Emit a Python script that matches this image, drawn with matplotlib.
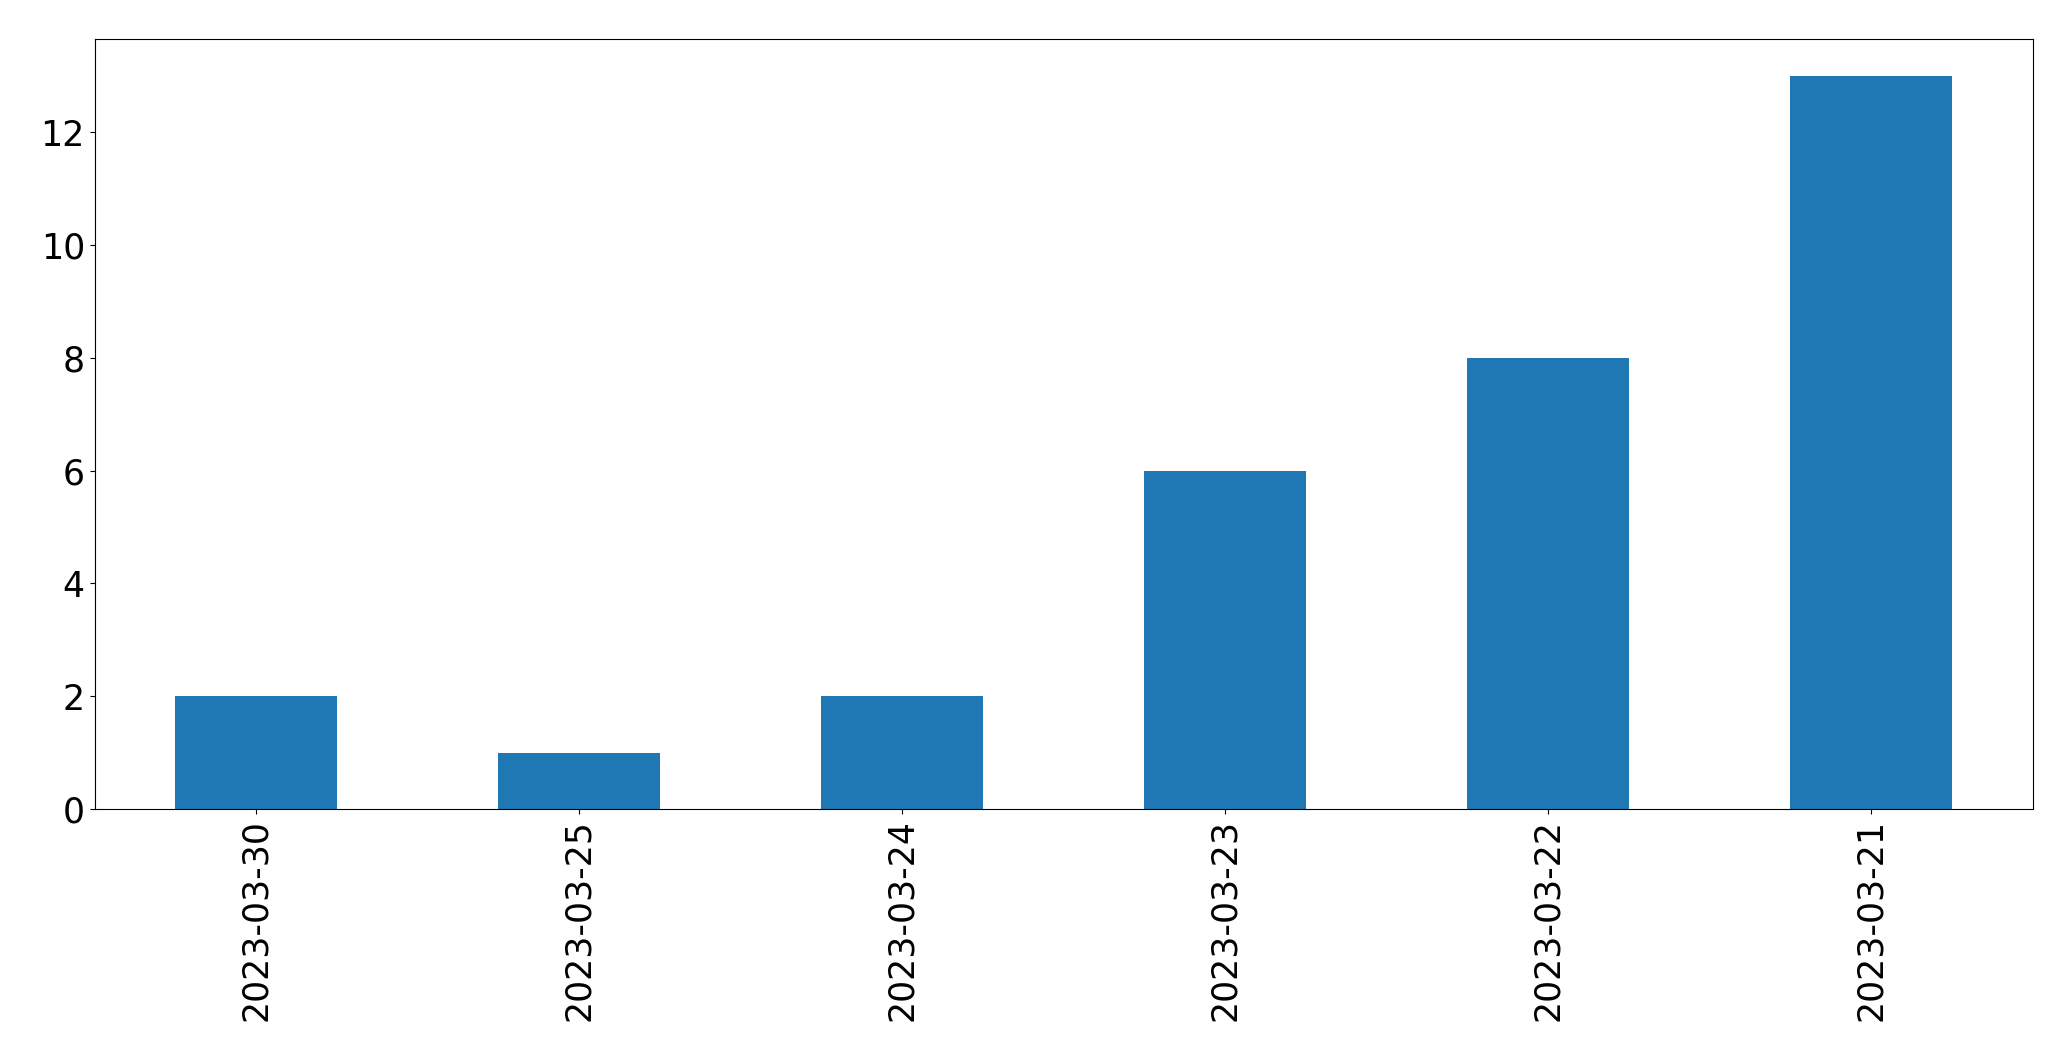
import matplotlib
matplotlib.use("Agg")
import matplotlib.pyplot as plt
import numpy as np

dates = ["2023-03-30", "2023-03-25", "2023-03-24", "2023-03-23", "2023-03-22", "2023-03-21"]
counts = [2, 1, 2, 6, 8, 13]

fig, ax = plt.subplots(figsize=(20.71, 10.61), dpi=100)
fig.subplots_adjust(left=0.0457, right=0.9815, top=0.963, bottom=0.2375)

x = np.arange(len(dates))
ax.bar(x, counts, width=0.5, color="#1f77b4")
ax.set_xlim(-0.5, len(dates) - 0.5)
ax.set_ylim(0, max(counts) * 1.05)
ax.set_xticks(x)
ax.set_xticklabels(dates, rotation=90)
ax.tick_params(axis="both", labelsize=25)

fig.savefig("out.png", dpi=100)
